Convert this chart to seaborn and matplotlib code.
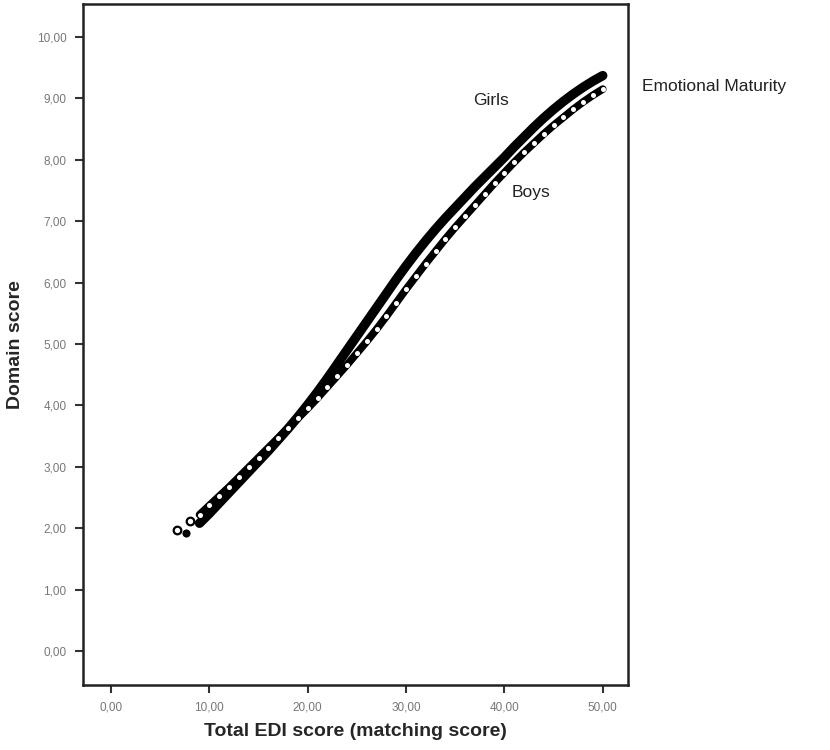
import numpy as np
import pandas as pd
import seaborn as sns
import matplotlib.pyplot as plt

# Total EDI score vs Emotional Maturity domain score
girls_x = [7.6, 9, 10, 11, 12, 13, 14, 15, 16, 17, 18, 19, 20, 21, 22, 23, 24, 25,
           26, 27, 28, 29, 30, 31, 32, 33, 34, 35, 36, 37, 38, 39, 40, 41, 42, 43,
           44, 45, 46, 47, 48, 49, 50]
girls_y = [1.92, 2.08, 2.24, 2.41, 2.58, 2.75, 2.92, 3.09, 3.26, 3.44, 3.62, 3.81,
           4.01, 4.22, 4.44, 4.67, 4.90, 5.13, 5.36, 5.59, 5.82, 6.05, 6.27, 6.48,
           6.68, 6.87, 7.05, 7.22, 7.39, 7.56, 7.72, 7.88, 8.04, 8.21, 8.37, 8.53,
           8.68, 8.82, 8.95, 9.07, 9.18, 9.28, 9.37]

boys_x = [6.7, 8.0, 9, 10, 11, 12, 13, 14, 15, 16, 17, 18, 19, 20, 21, 22, 23, 24,
          25, 26, 27, 28, 29, 30, 31, 32, 33, 34, 35, 36, 37, 38, 39, 40, 41, 42,
          43, 44, 45, 46, 47, 48, 49, 50]
boys_y = [1.97, 2.12, 2.22, 2.37, 2.52, 2.67, 2.83, 2.99, 3.15, 3.31, 3.47, 3.63,
          3.79, 3.95, 4.12, 4.30, 4.48, 4.66, 4.85, 5.04, 5.24, 5.45, 5.67, 5.89,
          6.10, 6.31, 6.51, 6.71, 6.90, 7.08, 7.26, 7.44, 7.62, 7.79, 7.96, 8.12,
          8.27, 8.42, 8.56, 8.69, 8.82, 8.94, 9.05, 9.15]

x_ticks = [0, 10, 20, 30, 40, 50]
y_ticks = [0, 1, 2, 3, 4, 5, 6, 7, 8, 9, 10]

girls = pd.DataFrame({"edi": girls_x, "domain": girls_y})
boys = pd.DataFrame({"edi": boys_x, "domain": boys_y})

sns.set_style("ticks")
plt.rcParams['font.family'] = ['Liberation Sans', 'DejaVu Sans']

fig = plt.figure(figsize=(8.3, 7.5), dpi=100)
ax = fig.add_axes([0.1, 0.087, 0.657, 0.908])

# girls: filled dots, dense enough to look like a solid band
sns.lineplot(data=girls.iloc[1:], x="edi", y="domain", ax=ax, color="black",
             linewidth=6.8, sort=False, solid_capstyle="round", zorder=2)
sns.scatterplot(data=girls.iloc[:1], x="edi", y="domain", ax=ax, s=34, color="black",
                edgecolor="black", linewidth=0, zorder=2)

# boys: black chain with small white centres, on top
sns.lineplot(data=boys.iloc[2:], x="edi", y="domain", ax=ax, color="black",
             linewidth=5.5, sort=False, solid_capstyle="round", zorder=3)
sns.scatterplot(data=boys.iloc[2:], x="edi", y="domain", ax=ax, s=13, color="white",
                edgecolor="black", linewidth=0, zorder=4)
sns.scatterplot(data=boys.iloc[:2], x="edi", y="domain", ax=ax, s=30, color="white",
                edgecolor="black", linewidth=1.6, zorder=4)

ax.set_xlim(-2.85, 52.6)
ax.set_ylim(-0.55, 10.54)
ax.set_xticks(x_ticks)
ax.set_yticks(y_ticks)
ax.set_xticklabels([f"{v:.2f}".replace(".", ",") for v in x_ticks])
ax.set_yticklabels([f"{v:.2f}".replace(".", ",") for v in y_ticks])
ax.tick_params(direction="out", length=6, width=1.5, labelsize=8.5,
               labelcolor="#777777", color="#333333", pad=6)
for s in ax.spines.values():
    s.set_visible(True)
    s.set_linewidth(1.8)
    s.set_color("#222222")

ax.set_xlabel("Total EDI score (matching score)", fontsize=14, fontweight="bold",
              labelpad=7)
ax.set_ylabel("Domain score", fontsize=14, fontweight="bold", labelpad=9)

ax.text(38.6, 8.96, "Girls", fontsize=12.5, ha="center", va="center", color="#222222")
ax.text(42.7, 7.46, "Boys", fontsize=12.5, ha="center", va="center", color="#222222")
ax.text(54.0, 9.2, "Emotional Maturity", fontsize=12.5, ha="left", va="center",
        color="#222222", clip_on=False)

fig.savefig("out.png", dpi=100)
